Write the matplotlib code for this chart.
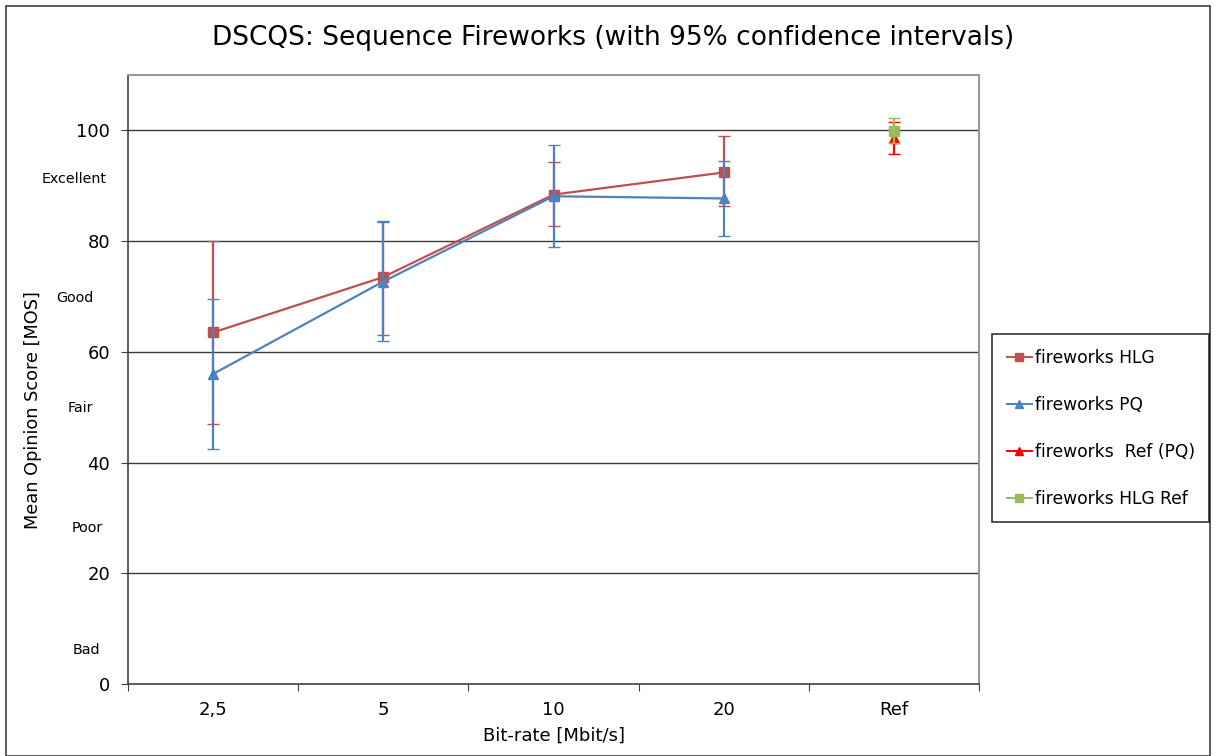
import numpy as np
import matplotlib.pyplot as plt
from matplotlib.patches import Rectangle
from matplotlib.lines import Line2D

categorias = ['2,5', '5', '10', '20', 'Ref']

# HLG y PQ: media, limite inferior y superior del intervalo de confianza
hlg_media = [63.5, 73.5, 88.4, 92.4]
hlg_inf = [46.9, 63.0, 82.7, 86.3]
hlg_sup = [80.1, 83.6, 94.2, 98.9]

pq_media = [56.0, 72.7, 88.1, 87.7]
pq_inf = [42.4, 61.9, 78.9, 81.0]
pq_sup = [69.5, 83.4, 97.3, 94.4]

ref_pq_media = [98.6]
ref_pq_inf = [95.8]
ref_pq_sup = [101.6]

ref_hlg_media = [99.8]
ref_hlg_inf = [97.7]
ref_hlg_sup = [102.2]

calidad = ['Excellent', 'Good', 'Fair', 'Poor', 'Bad']

W, H = 1216, 756
fig = plt.figure(figsize=(W / 100, H / 100), dpi=100)
ax = fig.add_axes([128 / W, 1 - 684 / H, (979 - 128) / W, (684 - 75) / H])

x = np.arange(4)


def err(media, inf, sup):
    m = np.array(media)
    return [m - np.array(inf), np.array(sup) - m]


series = [
    (x, hlg_media, hlg_inf, hlg_sup, '#C0504D', 's', 'fireworks HLG'),
    (x, pq_media, pq_inf, pq_sup, '#4F81BD', '^', 'fireworks PQ'),
    ([4], ref_pq_media, ref_pq_inf, ref_pq_sup, '#FF0000', '^', 'fireworks  Ref (PQ)'),
    ([4], ref_hlg_media, ref_hlg_inf, ref_hlg_sup, '#9BBB59', 's', 'fireworks HLG Ref'),
]

handles = []
for i, (xs, m, lo, hi, c, mk, lab) in enumerate(series):
    ax.errorbar(xs, m, yerr=err(m, lo, hi), color=c, marker=mk, markersize=7, lw=1.6,
                capsize=4, elinewidth=1.6, zorder=3 + i)
    handles.append(Line2D([], [], color=c, marker=mk, markersize=6, lw=1.4, label=lab))

ax.set_xlim(-0.5, 4.5)
ax.set_ylim(0, 110)
ax.set_yticks(np.arange(0, 101, 20))
for yv in range(20, 101, 20):
    ax.axhline(yv, color='#3a3a3a', lw=1.0, zorder=1)

ax.set_xticks(np.arange(-0.5, 4.6, 1))
ax.set_xticklabels([])
ax.set_xticks(x.tolist() + [4], minor=True)
ax.set_xticklabels(categorias, minor=True, fontsize=13)
ax.tick_params(axis='x', which='major', direction='out', length=5, color='#404040')
ax.tick_params(axis='x', which='minor', length=0, pad=12)
ax.tick_params(axis='y', direction='out', length=5, labelsize=13, color='#404040', pad=8)

for s in ['top', 'right']:
    ax.spines[s].set_color('#999999')
    ax.spines[s].set_linewidth(1.5)
for s in ['left', 'bottom']:
    ax.spines[s].set_color('#404040')
    ax.spines[s].set_linewidth(1.2)

fig.text(613 / W, 1 - 38 / H, 'DSCQS: Sequence Fireworks (with 95% confidence intervals)',
         ha='center', va='center', fontsize=19)
fig.text(554 / W, 1 - 736 / H, 'Bit-rate [Mbit/s]', ha='center', va='center', fontsize=13)
fig.text(33 / W, 1 - 410 / H, 'Mean Opinion Score [MOS]', ha='center', va='center',
         rotation=90, fontsize=12.8)

pos_calidad = [(74, 179), (75, 298), (80, 408), (87, 528), (86, 650)]
for txt, (px, py) in zip(calidad, pos_calidad):
    fig.text(px / W, 1 - py / H, txt, ha='center', va='center', fontsize=10.3)

leg = fig.legend(handles=handles, loc='upper left', bbox_to_anchor=(992 / W, 1 - 334 / H),
                 fontsize=12.3, frameon=True, fancybox=False, edgecolor='black',
                 labelspacing=1.7, handlelength=1.5, handletextpad=0.15, borderpad=0.85,
                 borderaxespad=0)
leg.get_frame().set_linewidth(1.2)

fig.patches.append(Rectangle((6 / W, 0), 1 - 12 / W, 1 - 6 / H, transform=fig.transFigure,
                             fill=False, edgecolor='#404040', lw=1.2))

fig.savefig('out.png', dpi=100)
